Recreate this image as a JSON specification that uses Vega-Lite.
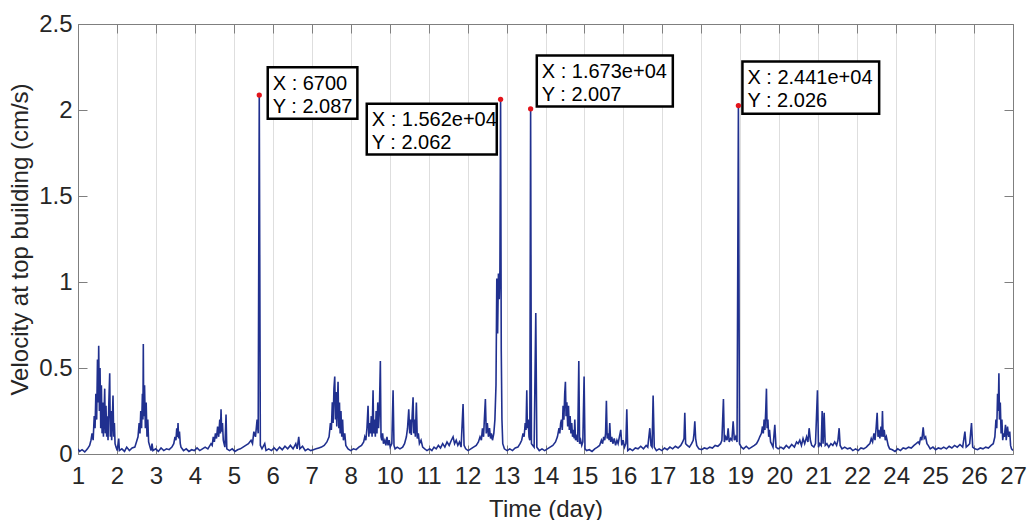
{
  "$schema": "https://vega.github.io/schema/vega-lite/v6.json",
  "autosize": {"type": "none"},
  "width": 935,
  "height": 430,
  "padding": {"left": 78, "top": 24, "right": 15, "bottom": 66},
  "background": "white",
  "config": {
    "font": "Liberation Sans",
    "view": {"stroke": null},
    "axis": {
      "labelFont": "Liberation Sans",
      "titleFont": "Liberation Sans",
      "labelFontSize": 24,
      "titleFontSize": 24,
      "titleFontWeight": "normal",
      "labelColor": "#262626",
      "titleColor": "#262626",
      "domainColor": "#7f7f7f",
      "domainWidth": 1,
      "tickColor": "#7f7f7f",
      "tickWidth": 1
    }
  },
  "datasets": {
    "series": [
      {"t":0,"v":0.03},{"t":60,"v":0.015},{"t":150,"v":0.025},{"t":250,"v":0.012},{"t":350,"v":0.03},{"t":430,"v":0.05},{"t":480,"v":0.08},{"t":520,"v":0.12},{"t":560,"v":0.08},{"t":600,"v":0.22},{"t":630,"v":0.15},{"t":660,"v":0.35},{"t":690,"v":0.2},{"t":720,"v":0.55},{"t":745,"v":0.3},{"t":765,"v":0.63},{"t":790,"v":0.25},{"t":815,"v":0.5},{"t":840,"v":0.15},{"t":865,"v":0.4},{"t":890,"v":0.12},{"t":915,"v":0.3},{"t":940,"v":0.1},{"t":965,"v":0.25},{"t":987,"v":0.38},{"t":1010,"v":0.12},{"t":1035,"v":0.28},{"t":1060,"v":0.1},{"t":1085,"v":0.22},{"t":1110,"v":0.08},{"t":1140,"v":0.3},{"t":1172,"v":0.47},{"t":1195,"v":0.1},{"t":1220,"v":0.25},{"t":1245,"v":0.08},{"t":1270,"v":0.2},{"t":1294,"v":0.34},{"t":1320,"v":0.1},{"t":1345,"v":0.18},{"t":1370,"v":0.06},{"t":1405,"v":0.04},{"t":1450,"v":0.02},{"t":1505,"v":0.09},{"t":1530,"v":0.02},{"t":1620,"v":0.03},{"t":1720,"v":0.015},{"t":1800,"v":0.04},{"t":1900,"v":0.02},{"t":2000,"v":0.035},{"t":2100,"v":0.04},{"t":2160,"v":0.07},{"t":2218,"v":0.1},{"t":2260,"v":0.18},{"t":2290,"v":0.12},{"t":2320,"v":0.25},{"t":2350,"v":0.15},{"t":2380,"v":0.35},{"t":2400,"v":0.2},{"t":2414,"v":0.64},{"t":2430,"v":0.22},{"t":2460,"v":0.4},{"t":2490,"v":0.15},{"t":2520,"v":0.3},{"t":2550,"v":0.1},{"t":2580,"v":0.2},{"t":2610,"v":0.07},{"t":2662,"v":0.04},{"t":2700,"v":0.02},{"t":2736,"v":0.06},{"t":2770,"v":0.02},{"t":2870,"v":0.03},{"t":2970,"v":0.015},{"t":3070,"v":0.035},{"t":3170,"v":0.02},{"t":3270,"v":0.03},{"t":3370,"v":0.025},{"t":3470,"v":0.04},{"t":3540,"v":0.06},{"t":3586,"v":0.1},{"t":3620,"v":0.08},{"t":3650,"v":0.15},{"t":3680,"v":0.1},{"t":3697,"v":0.18},{"t":3720,"v":0.09},{"t":3750,"v":0.13},{"t":3780,"v":0.06},{"t":3808,"v":0.04},{"t":3900,"v":0.02},{"t":4000,"v":0.03},{"t":4100,"v":0.015},{"t":4200,"v":0.025},{"t":4300,"v":0.02},{"t":4400,"v":0.035},{"t":4500,"v":0.02},{"t":4600,"v":0.03},{"t":4700,"v":0.04},{"t":4800,"v":0.03},{"t":4917,"v":0.06},{"t":4960,"v":0.05},{"t":5000,"v":0.1},{"t":5040,"v":0.07},{"t":5080,"v":0.12},{"t":5120,"v":0.09},{"t":5160,"v":0.16},{"t":5200,"v":0.1},{"t":5240,"v":0.2},{"t":5265,"v":0.12},{"t":5287,"v":0.26},{"t":5310,"v":0.13},{"t":5340,"v":0.18},{"t":5370,"v":0.08},{"t":5398,"v":0.06},{"t":5430,"v":0.04},{"t":5472,"v":0.23},{"t":5500,"v":0.03},{"t":5600,"v":0.02},{"t":5700,"v":0.03},{"t":5800,"v":0.015},{"t":5900,"v":0.025},{"t":6000,"v":0.03},{"t":6100,"v":0.04},{"t":6200,"v":0.05},{"t":6300,"v":0.06},{"t":6396,"v":0.08},{"t":6450,"v":0.06},{"t":6500,"v":0.13},{"t":6560,"v":0.1},{"t":6620,"v":0.2},{"t":6660,"v":0.12},{"t":6700,"v":2.087},{"t":6740,"v":0.05},{"t":6800,"v":0.03},{"t":6902,"v":0.06},{"t":6950,"v":0.02},{"t":7050,"v":0.03},{"t":7150,"v":0.02},{"t":7250,"v":0.035},{"t":7350,"v":0.02},{"t":7450,"v":0.04},{"t":7550,"v":0.025},{"t":7650,"v":0.045},{"t":7750,"v":0.03},{"t":7850,"v":0.05},{"t":7950,"v":0.03},{"t":8050,"v":0.06},{"t":8100,"v":0.03},{"t":8159,"v":0.1},{"t":8200,"v":0.03},{"t":8300,"v":0.045},{"t":8400,"v":0.02},{"t":8500,"v":0.03},{"t":8600,"v":0.02},{"t":8700,"v":0.025},{"t":8800,"v":0.03},{"t":8900,"v":0.035},{"t":9000,"v":0.04},{"t":9100,"v":0.05},{"t":9200,"v":0.07},{"t":9280,"v":0.1},{"t":9330,"v":0.18},{"t":9365,"v":0.14},{"t":9400,"v":0.3},{"t":9430,"v":0.18},{"t":9460,"v":0.38},{"t":9490,"v":0.45},{"t":9515,"v":0.2},{"t":9540,"v":0.36},{"t":9565,"v":0.16},{"t":9590,"v":0.3},{"t":9612,"v":0.42},{"t":9640,"v":0.15},{"t":9665,"v":0.3},{"t":9690,"v":0.12},{"t":9720,"v":0.25},{"t":9750,"v":0.1},{"t":9780,"v":0.2},{"t":9810,"v":0.08},{"t":9860,"v":0.12},{"t":9900,"v":0.05},{"t":9982,"v":0.03},{"t":10080,"v":0.02},{"t":10180,"v":0.03},{"t":10280,"v":0.025},{"t":10380,"v":0.04},{"t":10480,"v":0.05},{"t":10560,"v":0.07},{"t":10599,"v":0.1},{"t":10640,"v":0.08},{"t":10680,"v":0.15},{"t":10721,"v":0.28},{"t":10750,"v":0.1},{"t":10780,"v":0.18},{"t":10810,"v":0.12},{"t":10840,"v":0.22},{"t":10870,"v":0.1},{"t":10906,"v":0.37},{"t":10930,"v":0.12},{"t":10960,"v":0.2},{"t":10990,"v":0.1},{"t":11020,"v":0.25},{"t":11050,"v":0.12},{"t":11080,"v":0.3},{"t":11110,"v":0.15},{"t":11140,"v":0.25},{"t":11176,"v":0.54},{"t":11200,"v":0.1},{"t":11230,"v":0.08},{"t":11260,"v":0.12},{"t":11290,"v":0.06},{"t":11339,"v":0.08},{"t":11380,"v":0.05},{"t":11420,"v":0.1},{"t":11460,"v":0.05},{"t":11500,"v":0.08},{"t":11540,"v":0.04},{"t":11600,"v":0.06},{"t":11646,"v":0.37},{"t":11680,"v":0.05},{"t":11720,"v":0.03},{"t":11800,"v":0.04},{"t":11900,"v":0.03},{"t":12000,"v":0.04},{"t":12070,"v":0.06},{"t":12138,"v":0.1},{"t":12180,"v":0.15},{"t":12226,"v":0.26},{"t":12260,"v":0.12},{"t":12290,"v":0.2},{"t":12320,"v":0.11},{"t":12350,"v":0.22},{"t":12385,"v":0.33},{"t":12410,"v":0.12},{"t":12440,"v":0.2},{"t":12470,"v":0.1},{"t":12507,"v":0.3},{"t":12540,"v":0.09},{"t":12580,"v":0.12},{"t":12620,"v":0.06},{"t":12680,"v":0.08},{"t":12740,"v":0.04},{"t":12817,"v":0.03},{"t":12900,"v":0.02},{"t":13000,"v":0.03},{"t":13080,"v":0.02},{"t":13160,"v":0.04},{"t":13240,"v":0.03},{"t":13320,"v":0.05},{"t":13400,"v":0.035},{"t":13480,"v":0.06},{"t":13560,"v":0.04},{"t":13640,"v":0.07},{"t":13720,"v":0.05},{"t":13800,"v":0.08},{"t":13864,"v":0.1},{"t":13920,"v":0.06},{"t":13980,"v":0.08},{"t":14040,"v":0.05},{"t":14100,"v":0.07},{"t":14160,"v":0.04},{"t":14233,"v":0.29},{"t":14270,"v":0.05},{"t":14330,"v":0.03},{"t":14420,"v":0.02},{"t":14520,"v":0.03},{"t":14620,"v":0.04},{"t":14720,"v":0.05},{"t":14800,"v":0.07},{"t":14860,"v":0.1},{"t":14910,"v":0.08},{"t":14950,"v":0.15},{"t":14990,"v":0.1},{"t":15020,"v":0.2},{"t":15058,"v":0.32},{"t":15090,"v":0.12},{"t":15130,"v":0.18},{"t":15170,"v":0.1},{"t":15210,"v":0.15},{"t":15250,"v":0.09},{"t":15280,"v":0.12},{"t":15320,"v":0.08},{"t":15370,"v":0.12},{"t":15410,"v":0.2},{"t":15450,"v":0.4},{"t":15480,"v":1.02},{"t":15510,"v":0.7},{"t":15540,"v":1.05},{"t":15570,"v":0.9},{"t":15595,"v":1.07},{"t":15620,"v":2.062},{"t":15645,"v":0.6},{"t":15670,"v":0.2},{"t":15700,"v":0.06},{"t":15760,"v":0.03},{"t":15860,"v":0.02},{"t":15960,"v":0.03},{"t":16060,"v":0.02},{"t":16160,"v":0.035},{"t":16260,"v":0.04},{"t":16340,"v":0.06},{"t":16400,"v":0.08},{"t":16450,"v":0.12},{"t":16490,"v":0.1},{"t":16530,"v":0.18},{"t":16560,"v":0.14},{"t":16588,"v":0.37},{"t":16610,"v":0.15},{"t":16640,"v":0.2},{"t":16670,"v":0.1},{"t":16700,"v":0.08},{"t":16730,"v":2.007},{"t":16760,"v":0.06},{"t":16810,"v":0.05},{"t":16860,"v":0.04},{"t":16921,"v":0.82},{"t":16960,"v":0.04},{"t":17050,"v":0.02},{"t":17150,"v":0.03},{"t":17250,"v":0.02},{"t":17350,"v":0.03},{"t":17450,"v":0.04},{"t":17550,"v":0.05},{"t":17650,"v":0.07},{"t":17720,"v":0.1},{"t":17780,"v":0.15},{"t":17808,"v":0.12},{"t":17840,"v":0.18},{"t":17869,"v":0.2},{"t":17900,"v":0.14},{"t":17930,"v":0.28},{"t":17960,"v":0.2},{"t":17990,"v":0.35},{"t":18016,"v":0.42},{"t":18040,"v":0.22},{"t":18070,"v":0.3},{"t":18100,"v":0.16},{"t":18130,"v":0.28},{"t":18160,"v":0.14},{"t":18190,"v":0.22},{"t":18220,"v":0.12},{"t":18250,"v":0.18},{"t":18280,"v":0.1},{"t":18310,"v":0.14},{"t":18340,"v":0.09},{"t":18363,"v":0.2},{"t":18390,"v":0.08},{"t":18430,"v":0.1},{"t":18470,"v":0.07},{"t":18511,"v":0.54},{"t":18540,"v":0.06},{"t":18580,"v":0.08},{"t":18620,"v":0.05},{"t":18660,"v":0.07},{"t":18707,"v":0.45},{"t":18740,"v":0.03},{"t":18800,"v":0.02},{"t":18900,"v":0.025},{"t":19000,"v":0.015},{"t":19100,"v":0.03},{"t":19200,"v":0.04},{"t":19280,"v":0.05},{"t":19346,"v":0.08},{"t":19390,"v":0.06},{"t":19430,"v":0.1},{"t":19470,"v":0.08},{"t":19500,"v":0.12},{"t":19531,"v":0.31},{"t":19560,"v":0.09},{"t":19600,"v":0.12},{"t":19630,"v":0.08},{"t":19655,"v":0.18},{"t":19690,"v":0.07},{"t":19730,"v":0.1},{"t":19770,"v":0.06},{"t":19820,"v":0.09},{"t":19870,"v":0.05},{"t":19920,"v":0.08},{"t":19964,"v":0.06},{"t":20010,"v":0.1},{"t":20063,"v":0.14},{"t":20100,"v":0.05},{"t":20150,"v":0.08},{"t":20200,"v":0.04},{"t":20250,"v":0.06},{"t":20285,"v":0.26},{"t":20320,"v":0.02},{"t":20400,"v":0.03},{"t":20500,"v":0.02},{"t":20600,"v":0.035},{"t":20700,"v":0.03},{"t":20800,"v":0.045},{"t":20900,"v":0.03},{"t":21000,"v":0.05},{"t":21060,"v":0.04},{"t":21136,"v":0.15},{"t":21180,"v":0.05},{"t":21220,"v":0.04},{"t":21258,"v":0.34},{"t":21300,"v":0.04},{"t":21380,"v":0.02},{"t":21480,"v":0.03},{"t":21580,"v":0.02},{"t":21680,"v":0.035},{"t":21780,"v":0.025},{"t":21880,"v":0.04},{"t":21980,"v":0.03},{"t":22080,"v":0.045},{"t":22180,"v":0.035},{"t":22280,"v":0.05},{"t":22350,"v":0.07},{"t":22400,"v":0.09},{"t":22429,"v":0.24},{"t":22460,"v":0.06},{"t":22520,"v":0.05},{"t":22600,"v":0.04},{"t":22680,"v":0.06},{"t":22740,"v":0.08},{"t":22770,"v":0.12},{"t":22799,"v":0.19},{"t":22830,"v":0.09},{"t":22870,"v":0.05},{"t":22950,"v":0.03},{"t":23050,"v":0.025},{"t":23150,"v":0.035},{"t":23250,"v":0.03},{"t":23350,"v":0.04},{"t":23450,"v":0.035},{"t":23550,"v":0.05},{"t":23650,"v":0.045},{"t":23750,"v":0.06},{"t":23800,"v":0.08},{"t":23857,"v":0.32},{"t":23890,"v":0.07},{"t":23940,"v":0.1},{"t":23990,"v":0.08},{"t":24031,"v":0.15},{"t":24070,"v":0.07},{"t":24120,"v":0.09},{"t":24170,"v":0.08},{"t":24216,"v":0.19},{"t":24260,"v":0.08},{"t":24310,"v":0.1},{"t":24360,"v":0.07},{"t":24410,"v":2.026},{"t":24450,"v":0.06},{"t":24520,"v":0.04},{"t":24600,"v":0.03},{"t":24700,"v":0.045},{"t":24800,"v":0.03},{"t":24900,"v":0.04},{"t":25000,"v":0.05},{"t":25080,"v":0.06},{"t":25150,"v":0.08},{"t":25200,"v":0.1},{"t":25262,"v":0.12},{"t":25300,"v":0.16},{"t":25330,"v":0.12},{"t":25360,"v":0.2},{"t":25390,"v":0.14},{"t":25420,"v":0.25},{"t":25447,"v":0.38},{"t":25470,"v":0.15},{"t":25500,"v":0.2},{"t":25530,"v":0.1},{"t":25560,"v":0.14},{"t":25600,"v":0.07},{"t":25632,"v":0.06},{"t":25690,"v":0.04},{"t":25756,"v":0.17},{"t":25800,"v":0.04},{"t":25880,"v":0.03},{"t":25980,"v":0.04},{"t":26080,"v":0.03},{"t":26180,"v":0.05},{"t":26280,"v":0.035},{"t":26380,"v":0.055},{"t":26480,"v":0.04},{"t":26560,"v":0.07},{"t":26618,"v":0.06},{"t":26680,"v":0.08},{"t":26740,"v":0.05},{"t":26800,"v":0.09},{"t":26860,"v":0.06},{"t":26930,"v":0.1},{"t":26980,"v":0.07},{"t":27025,"v":0.15},{"t":27070,"v":0.08},{"t":27120,"v":0.05},{"t":27200,"v":0.04},{"t":27260,"v":0.06},{"t":27332,"v":0.37},{"t":27370,"v":0.04},{"t":27420,"v":0.06},{"t":27470,"v":0.05},{"t":27506,"v":0.25},{"t":27540,"v":0.06},{"t":27580,"v":0.24},{"t":27620,"v":0.05},{"t":27680,"v":0.06},{"t":27750,"v":0.04},{"t":27830,"v":0.06},{"t":27900,"v":0.05},{"t":27970,"v":0.07},{"t":28040,"v":0.05},{"t":28090,"v":0.08},{"t":28134,"v":0.15},{"t":28170,"v":0.05},{"t":28240,"v":0.03},{"t":28340,"v":0.04},{"t":28440,"v":0.03},{"t":28540,"v":0.035},{"t":28640,"v":0.02},{"t":28740,"v":0.03},{"t":28840,"v":0.02},{"t":28940,"v":0.035},{"t":29040,"v":0.03},{"t":29140,"v":0.04},{"t":29200,"v":0.05},{"t":29269,"v":0.06},{"t":29320,"v":0.09},{"t":29370,"v":0.07},{"t":29420,"v":0.12},{"t":29460,"v":0.08},{"t":29500,"v":0.15},{"t":29539,"v":0.24},{"t":29570,"v":0.1},{"t":29600,"v":0.14},{"t":29640,"v":0.09},{"t":29680,"v":0.16},{"t":29710,"v":0.1},{"t":29735,"v":0.25},{"t":29760,"v":0.1},{"t":29800,"v":0.14},{"t":29840,"v":0.08},{"t":29880,"v":0.1},{"t":29946,"v":0.05},{"t":30000,"v":0.03},{"t":30100,"v":0.025},{"t":30200,"v":0.015},{"t":30300,"v":0.03},{"t":30400,"v":0.02},{"t":30500,"v":0.035},{"t":30600,"v":0.03},{"t":30700,"v":0.04},{"t":30800,"v":0.035},{"t":30900,"v":0.05},{"t":30980,"v":0.06},{"t":31055,"v":0.07},{"t":31100,"v":0.06},{"t":31150,"v":0.1},{"t":31190,"v":0.08},{"t":31240,"v":0.155},{"t":31280,"v":0.09},{"t":31330,"v":0.1},{"t":31380,"v":0.06},{"t":31425,"v":0.05},{"t":31500,"v":0.03},{"t":31600,"v":0.04},{"t":31700,"v":0.025},{"t":31800,"v":0.035},{"t":31900,"v":0.03},{"t":32000,"v":0.04},{"t":32100,"v":0.03},{"t":32200,"v":0.045},{"t":32300,"v":0.035},{"t":32400,"v":0.05},{"t":32500,"v":0.04},{"t":32600,"v":0.055},{"t":32700,"v":0.04},{"t":32782,"v":0.13},{"t":32830,"v":0.04},{"t":32900,"v":0.05},{"t":32960,"v":0.06},{"t":33026,"v":0.18},{"t":33070,"v":0.04},{"t":33150,"v":0.03},{"t":33250,"v":0.025},{"t":33350,"v":0.035},{"t":33450,"v":0.03},{"t":33550,"v":0.04},{"t":33650,"v":0.035},{"t":33750,"v":0.05},{"t":33830,"v":0.06},{"t":33890,"v":0.1},{"t":33930,"v":0.2},{"t":33960,"v":0.15},{"t":33990,"v":0.35},{"t":34015,"v":0.25},{"t":34039,"v":0.47},{"t":34060,"v":0.2},{"t":34090,"v":0.3},{"t":34120,"v":0.12},{"t":34150,"v":0.2},{"t":34180,"v":0.08},{"t":34210,"v":0.12},{"t":34240,"v":0.1},{"t":34283,"v":0.17},{"t":34310,"v":0.08},{"t":34357,"v":0.16},{"t":34400,"v":0.1},{"t":34440,"v":0.13},{"t":34470,"v":0.05},{"t":34505,"v":0.03},{"t":34560,"v":0.02}
    ],
    "tips": [
      {"t": 6700, "v": 2.087, "label": "X : 6700\nY : 2.087", "bx1": 7013, "bx2": 10326, "by1": 2.249, "by2": 1.949},
      {"t": 15620, "v": 2.062, "label": "X : 1.562e+04\nY : 2.062", "bx1": 10673, "bx2": 15479, "by1": 2.036, "by2": 1.741},
      {"t": 16730, "v": 2.007, "label": "X : 1.673e+04\nY : 2.007", "bx1": 16958, "bx2": 21986, "by1": 2.317, "by2": 2.020},
      {"t": 24410, "v": 2.026, "label": "X : 2.441e+04\nY : 2.026", "bx1": 24559, "bx2": 29613, "by1": 2.282, "by2": 1.978}
    ]
  },
  "resolve": {"axis": {"x": "independent", "y": "independent"}},
  "layer": [
    {
      "data": {"name": "series"},
      "mark": {"type": "line", "color": "#20308f", "strokeWidth": 1.6, "clip": true},
      "encoding": {
        "x": {
          "field": "t", "type": "quantitative",
          "scale": {"domain": [0, 34560], "nice": false, "zero": false},
          "axis": {
            "orient": "bottom",
            "title": "Time (day)",
            "values": [0,1440,2880,4320,5760,7200,8640,10080,11520,12960,14400,15840,17280,18720,20160,21600,23040,24480,25920,27360,28800,30240,31680,33120,34560],
            "labelExpr": "['1','2','3','4','5','6','7','8','10','11','12','13','14','15','16','17','18','19','20','21','22','24','25','26','27'][round(datum.value / 1440)]",
            "grid": true, "gridColor": "#dedede", "gridWidth": 1,
            "tickSize": -9, "labelPadding": 19, "labelFlush": false, "labelOverlap": false,
            "titlePadding": 9
          }
        },
        "y": {
          "field": "v", "type": "quantitative",
          "scale": {"domain": [0, 2.5], "nice": false},
          "axis": {
            "orient": "left",
            "title": "Velocity at top building (cm/s)",
            "values": [0, 0.5, 1, 1.5, 2, 2.5],
            "format": "~g",
            "grid": false,
            "tickSize": -9, "labelPadding": 15,
            "titlePadding": 6
          }
        }
      }
    },
    {
      "data": {"name": "tips"},
      "mark": {"type": "rect", "fill": "white", "stroke": "black", "strokeWidth": 2.5},
      "encoding": {
        "x": {
          "field": "bx1", "type": "quantitative",
          "scale": {"domain": [0, 34560], "nice": false, "zero": false},
          "axis": {
            "orient": "top", "title": null, "labels": false, "grid": false,
            "values": [0,1440,2880,4320,5760,7200,8640,10080,11520,12960,14400,15840,17280,18720,20160,21600,23040,24480,25920,27360,28800,30240,31680,33120,34560],
            "tickSize": -9
          }
        },
        "x2": {"field": "bx2"},
        "y": {
          "field": "by1", "type": "quantitative",
          "scale": {"domain": [0, 2.5], "nice": false},
          "axis": {
            "orient": "right", "title": null, "labels": false, "grid": false,
            "values": [0, 0.5, 1, 1.5, 2, 2.5],
            "tickSize": -9
          }
        },
        "y2": {"field": "by2"}
      }
    },
    {
      "data": {"name": "tips"},
      "mark": {"type": "text", "align": "left", "baseline": "alphabetic", "dx": 5, "dy": 22.5, "fontSize": 20, "lineHeight": 23, "lineBreak": "\n", "color": "black", "font": "Liberation Sans"},
      "encoding": {
        "x": {"field": "bx1", "type": "quantitative", "axis": null},
        "y": {"field": "by1", "type": "quantitative", "axis": null},
        "text": {"field": "label"}
      }
    },
    {
      "data": {"name": "tips"},
      "mark": {"type": "point", "filled": true, "color": "#e3141b", "size": 28, "opacity": 1},
      "encoding": {
        "x": {"field": "t", "type": "quantitative", "axis": null},
        "y": {"field": "v", "type": "quantitative", "axis": null}
      }
    }
  ]
}
